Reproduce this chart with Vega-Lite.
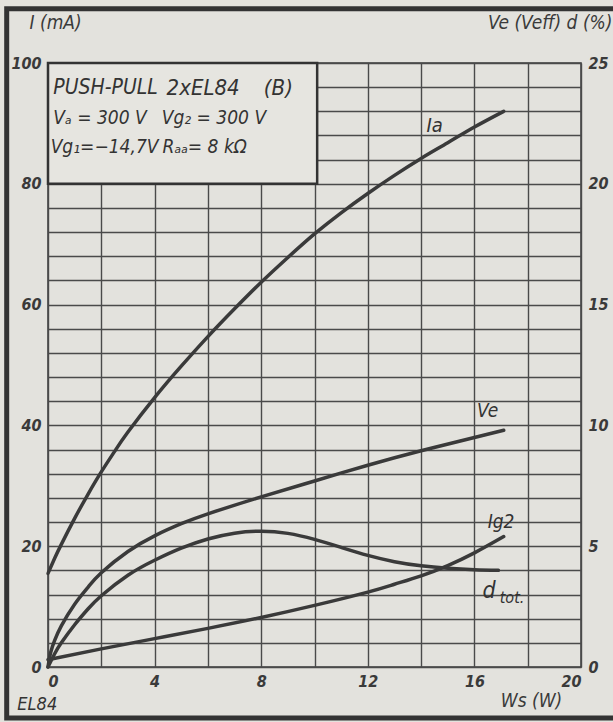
{
  "$schema": "https://vega.github.io/schema/vega-lite/v6.json",
  "width": 533,
  "height": 604,
  "autosize": {"type": "none"},
  "padding": {"left": 48, "top": 63, "right": 32, "bottom": 55},
  "background": "#e3e2dd",
  "config": {
    "view": {"stroke": "#3a3a3a", "strokeWidth": 1.5},
    "font": "DejaVu Sans Condensed",
    "axis": {
      "labelFont": "DejaVu Sans Condensed",
      "labelFontStyle": "italic",
      "labelFontWeight": "bold",
      "labelFontSize": 16,
      "labelColor": "#3a3a3a",
      "titleFont": "DejaVu Sans Condensed",
      "titleFontStyle": "italic",
      "titleFontWeight": "normal",
      "titleFontSize": 19,
      "titleColor": "#3a3a3a",
      "ticks": false,
      "domain": false,
      "gridColor": "#4a4a4a",
      "gridOpacity": 1,
      "gridWidth": 1.4
    }
  },
  "datasets": {
    "left": [
      {"s": "Ia", "x": 0, "y": 15.5}, {"s": "Ia", "x": 0.25, "y": 18.0}, {"s": "Ia", "x": 0.5, "y": 20.3},
      {"s": "Ia", "x": 1, "y": 24.6}, {"s": "Ia", "x": 1.5, "y": 28.6}, {"s": "Ia", "x": 2, "y": 32.3},
      {"s": "Ia", "x": 2.5, "y": 35.7}, {"s": "Ia", "x": 3, "y": 38.9}, {"s": "Ia", "x": 4, "y": 44.6},
      {"s": "Ia", "x": 5, "y": 49.8}, {"s": "Ia", "x": 6, "y": 54.7}, {"s": "Ia", "x": 7, "y": 59.3},
      {"s": "Ia", "x": 8, "y": 63.7}, {"s": "Ia", "x": 9, "y": 67.8}, {"s": "Ia", "x": 10, "y": 71.7},
      {"s": "Ia", "x": 11, "y": 75.2}, {"s": "Ia", "x": 12, "y": 78.4}, {"s": "Ia", "x": 13, "y": 81.4},
      {"s": "Ia", "x": 14, "y": 84.2}, {"s": "Ia", "x": 15, "y": 86.8}, {"s": "Ia", "x": 16, "y": 89.4},
      {"s": "Ia", "x": 17.1, "y": 92},
      {"s": "Ig2", "x": 0, "y": 1.2}, {"s": "Ig2", "x": 2, "y": 3.0}, {"s": "Ig2", "x": 4, "y": 4.7},
      {"s": "Ig2", "x": 6, "y": 6.4}, {"s": "Ig2", "x": 8, "y": 8.2}, {"s": "Ig2", "x": 10, "y": 10.2},
      {"s": "Ig2", "x": 12, "y": 12.4}, {"s": "Ig2", "x": 13, "y": 13.7}, {"s": "Ig2", "x": 14, "y": 15.1},
      {"s": "Ig2", "x": 15, "y": 16.8}, {"s": "Ig2", "x": 16, "y": 18.9}, {"s": "Ig2", "x": 17.1, "y": 21.6}
    ],
    "right": [
      {"s": "Ve", "x": 0, "y": 0}, {"s": "Ve", "x": 0.1, "y": 0.6}, {"s": "Ve", "x": 0.25, "y": 1.1},
      {"s": "Ve", "x": 0.5, "y": 1.7}, {"s": "Ve", "x": 1, "y": 2.6}, {"s": "Ve", "x": 1.5, "y": 3.3},
      {"s": "Ve", "x": 2, "y": 3.9}, {"s": "Ve", "x": 3, "y": 4.78}, {"s": "Ve", "x": 4, "y": 5.43},
      {"s": "Ve", "x": 5, "y": 5.93}, {"s": "Ve", "x": 6, "y": 6.34}, {"s": "Ve", "x": 8, "y": 7.04},
      {"s": "Ve", "x": 10, "y": 7.7}, {"s": "Ve", "x": 12, "y": 8.35}, {"s": "Ve", "x": 14, "y": 8.95},
      {"s": "Ve", "x": 16, "y": 9.5}, {"s": "Ve", "x": 17.1, "y": 9.8},
      {"s": "d", "x": 0, "y": 0}, {"s": "d", "x": 0.25, "y": 0.55}, {"s": "d", "x": 0.5, "y": 1.0},
      {"s": "d", "x": 1, "y": 1.75}, {"s": "d", "x": 1.5, "y": 2.4}, {"s": "d", "x": 2, "y": 2.95},
      {"s": "d", "x": 3, "y": 3.8}, {"s": "d", "x": 4, "y": 4.42}, {"s": "d", "x": 5, "y": 4.92},
      {"s": "d", "x": 6, "y": 5.3}, {"s": "d", "x": 7, "y": 5.54}, {"s": "d", "x": 8, "y": 5.62},
      {"s": "d", "x": 9, "y": 5.53}, {"s": "d", "x": 10, "y": 5.28}, {"s": "d", "x": 11, "y": 4.95},
      {"s": "d", "x": 12, "y": 4.62}, {"s": "d", "x": 13, "y": 4.36}, {"s": "d", "x": 14, "y": 4.19},
      {"s": "d", "x": 15, "y": 4.09}, {"s": "d", "x": 16, "y": 4.03}, {"s": "d", "x": 16.9, "y": 4.0}
    ],
    "leftText": [
      {"x": 14.2, "y": 89.5, "t": "Ia", "size": 20},
      {"x": 16.5, "y": 24, "t": "Ig2", "size": 19},
      {"x": 0.2, "y": 95.9, "t": "PUSH-PULL", "size": 21},
      {"x": 4.45, "y": 95.9, "t": "2xEL84", "size": 22},
      {"x": 8.1, "y": 95.9, "t": "(B)", "size": 22},
      {"x": 0.2, "y": 90.9, "t": "Vₐ = 300 V", "size": 19},
      {"x": 4.27, "y": 90.9, "t": "Vg₂ = 300 V", "size": 19},
      {"x": 0.1, "y": 86.1, "t": "Vg₁=−14,7V", "size": 19},
      {"x": 4.3, "y": 86.1, "t": "Rₐₐ= 8 kΩ", "size": 19},
      {"x": -1.15, "y": -6.3, "t": "EL84", "size": 18}
    ],
    "rightText": [
      {"x": 16.1, "y": 10.6, "t": "Ve", "size": 19},
      {"x": 16.3, "y": 3.15, "t": "d", "size": 23},
      {"x": 16.95, "y": 2.85, "t": "tot.", "size": 16}
    ],
    "boxes": [
      {"kind": "frame", "x": -1.55, "x2": 21.8, "y": -8.44, "y2": 109.0},
      {"kind": "box", "x": 0, "x2": 10.1, "y": 80, "y2": 100}
    ]
  },
  "layer": [
    {
      "encoding": {
        "x": {
          "field": "x", "type": "quantitative",
          "scale": {"domain": [0, 20], "nice": false, "zero": false},
          "axis": {
            "values": [0, 2, 4, 6, 8, 10, 12, 14, 16, 18, 20],
            "labelExpr": "datum.value % 4 === 0 ? datum.label : ''",
            "labelPadding": 6,
            "title": "Ws (W)",
            "titleX": 483, "titleY": 33, "titleAlign": "center", "titleBaseline": "middle"
          }
        },
        "y": {
          "field": "y", "type": "quantitative",
          "scale": {"domain": [0, 100], "nice": false, "zero": false},
          "axis": {
            "orient": "left",
            "values": [0, 4, 8, 12, 16, 20, 24, 28, 32, 36, 40, 44, 48, 52, 56, 60, 64, 68, 72, 76, 80, 84, 88, 92, 96, 100],
            "labelExpr": "datum.value % 20 === 0 ? datum.label : ''",
            "labelPadding": 7,
            "title": "I (mA)",
            "titleAngle": 0, "titleX": -19, "titleY": -41, "titleAlign": "left", "titleBaseline": "middle"
          }
        }
      },
      "layer": [
        {
          "data": {"name": "boxes"},
          "transform": [{"filter": "datum.kind === 'frame'"}],
          "mark": {"type": "rect", "fill": "#e3e2dd", "fillOpacity": 0, "stroke": "#333333", "strokeWidth": 5},
          "encoding": {"x2": {"field": "x2"}, "y2": {"field": "y2"}}
        },
        {
          "data": {"name": "boxes"},
          "transform": [{"filter": "datum.kind === 'box'"}],
          "mark": {"type": "rect", "fill": "#e6e5e0", "stroke": "#333333", "strokeWidth": 2.5},
          "encoding": {"x2": {"field": "x2"}, "y2": {"field": "y2"}}
        },
        {
          "data": {"name": "left"},
          "mark": {"type": "line", "interpolate": "natural", "color": "#3a3a3a", "strokeWidth": 3.5, "strokeCap": "round"},
          "encoding": {"detail": {"field": "s"}}
        },
        {
          "data": {"name": "leftText"},
          "mark": {"type": "text", "align": "left", "baseline": "middle", "fontStyle": "italic", "color": "#333333", "font": "DejaVu Sans Condensed"},
          "encoding": {"text": {"field": "t"}, "size": {"field": "size", "type": "quantitative", "scale": null}}
        }
      ]
    },
    {
      "encoding": {
        "x": {"field": "x", "type": "quantitative", "scale": {"domain": [0, 20], "nice": false, "zero": false}},
        "y": {
          "field": "y", "type": "quantitative",
          "scale": {"domain": [0, 25], "nice": false, "zero": false},
          "axis": {
            "orient": "right",
            "values": [0, 5, 10, 15, 20, 25],
            "grid": false,
            "labelPadding": 7,
            "title": "Ve (Veff) d (%)",
            "titleAngle": 0, "titleX": 31, "titleY": -41, "titleAlign": "right", "titleBaseline": "middle"
          }
        }
      },
      "layer": [
        {
          "data": {"name": "right"},
          "mark": {"type": "line", "interpolate": "natural", "color": "#3a3a3a", "strokeWidth": 3.5, "strokeCap": "round"},
          "encoding": {"detail": {"field": "s"}}
        },
        {
          "data": {"name": "rightText"},
          "mark": {"type": "text", "align": "left", "baseline": "middle", "fontStyle": "italic", "color": "#333333", "font": "DejaVu Sans Condensed"},
          "encoding": {"text": {"field": "t"}, "size": {"field": "size", "type": "quantitative", "scale": null}}
        }
      ]
    }
  ],
  "resolve": {"scale": {"y": "independent"}}
}
